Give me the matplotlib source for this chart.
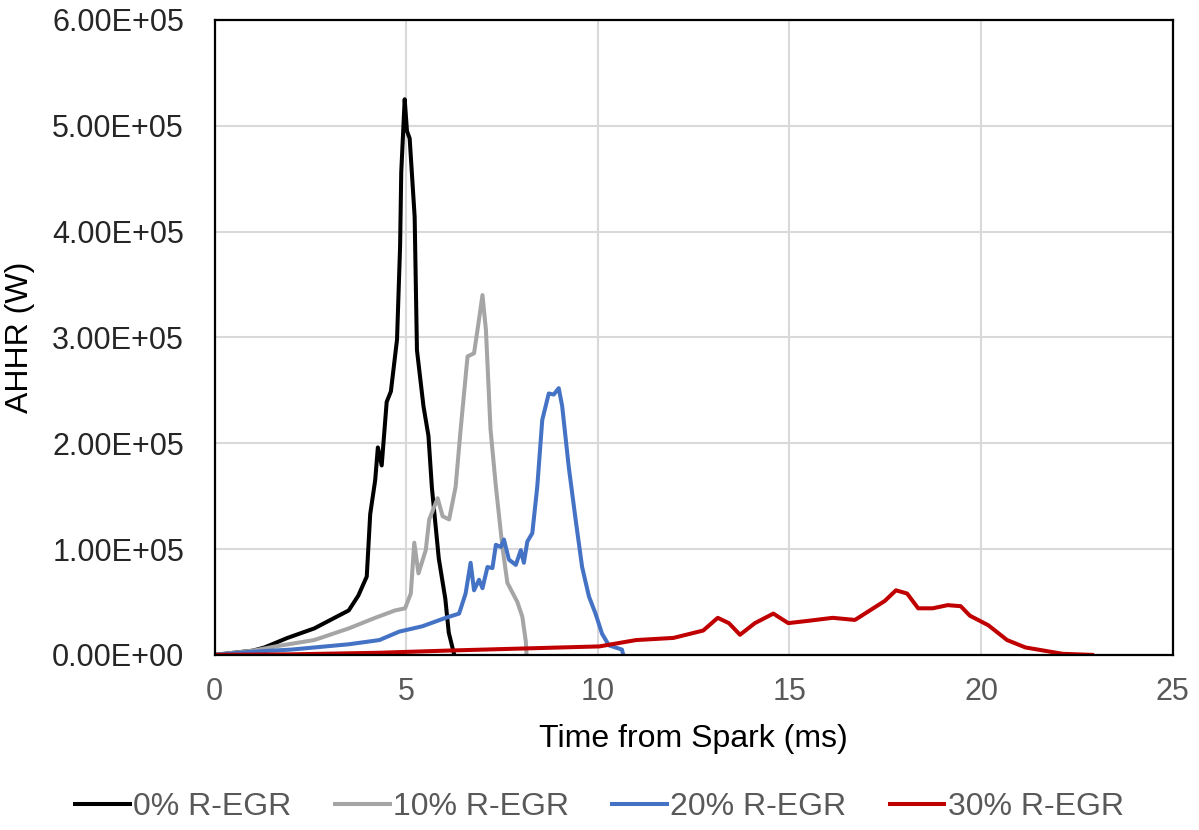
import matplotlib.pyplot as plt
from matplotlib.ticker import FuncFormatter

plt.rcParams['font.family'] = ['Liberation Sans', 'DejaVu Sans']

# AHHR curves (x in ms, y in 1e5 W)
t_0 = [0, 0.5, 1.0, 1.3, 1.9, 2.6, 2.97, 3.5, 3.75, 3.97, 4.06, 4.19, 4.26, 4.36, 4.49,
       4.6, 4.76, 4.84, 4.87, 4.96, 5.02, 5.09, 5.22, 5.28, 5.45, 5.58, 5.67, 5.85,
       6.02, 6.11, 6.24]
ahhr_0 = [0, 0.02, 0.04, 0.07, 0.16, 0.25, 0.32, 0.42, 0.56, 0.74, 1.33, 1.65, 1.96, 1.79,
          2.39, 2.49, 2.98, 3.86, 4.56, 5.25, 4.95, 4.88, 4.14, 2.88, 2.35, 2.07, 1.58,
          0.91, 0.53, 0.21, 0.02]

t_10 = [0, 1.0, 1.75, 2.6, 3.5, 4.19, 4.71, 4.97, 5.12, 5.21, 5.32, 5.51, 5.6, 5.82, 5.95,
        6.12, 6.29, 6.42, 6.6, 6.77, 6.9, 6.99, 7.08, 7.2, 7.34, 7.51, 7.64, 7.9, 8.03,
        8.12, 8.14]
ahhr_10 = [0, 0.04, 0.09, 0.14, 0.25, 0.35, 0.42, 0.44, 0.58, 1.06, 0.77, 0.99, 1.28, 1.48,
           1.31, 1.28, 1.59, 2.13, 2.82, 2.85, 3.17, 3.40, 3.07, 2.13, 1.59, 1.02, 0.68,
           0.50, 0.36, 0.13, 0.0]

t_20 = [0, 1.0, 2.0, 2.6, 3.5, 4.3, 4.82, 5.42, 6.03, 6.38, 6.55, 6.68, 6.77, 6.9, 6.99,
        7.12, 7.25, 7.34, 7.47, 7.55, 7.68, 7.86, 7.99, 8.07, 8.16, 8.29, 8.42, 8.55,
        8.72, 8.85, 8.98, 9.07, 9.24, 9.42, 9.59, 9.77, 9.94, 10.11, 10.29, 10.63, 10.65]
ahhr_20 = [0, 0.03, 0.05, 0.07, 0.10, 0.14, 0.22, 0.27, 0.35, 0.39, 0.58, 0.87, 0.61, 0.71,
           0.63, 0.83, 0.82, 1.04, 1.02, 1.09, 0.90, 0.85, 0.99, 0.87, 1.07, 1.15, 1.59,
           2.22, 2.47, 2.46, 2.52, 2.35, 1.78, 1.28, 0.83, 0.55, 0.39, 0.20, 0.09, 0.05,
           0.02]

t_30 = [0, 2.0, 4.3, 6.03, 8.03, 10.04, 11.0, 11.97, 12.75, 13.13, 13.42, 13.71, 14.1,
        14.58, 14.97, 15.45, 16.13, 16.71, 17.1, 17.49, 17.78, 18.07, 18.36, 18.74, 19.13,
        19.47, 19.71, 20.19, 20.68, 21.16, 22.13, 22.9]
ahhr_30 = [0, 0.005, 0.02, 0.04, 0.06, 0.08, 0.14, 0.16, 0.23, 0.35, 0.30, 0.19, 0.30,
           0.39, 0.30, 0.32, 0.35, 0.33, 0.42, 0.51, 0.61, 0.58, 0.44, 0.44, 0.47, 0.46,
           0.37, 0.28, 0.14, 0.07, 0.01, 0.0]

series = [
    (t_0, ahhr_0, '0% R-EGR', '#000000'),
    (t_10, ahhr_10, '10% R-EGR', '#a5a5a5'),
    (t_20, ahhr_20, '20% R-EGR', '#4472c4'),
    (t_30, ahhr_30, '30% R-EGR', '#c00000'),
]

fig = plt.figure(figsize=(11.99, 8.30), dpi=100)
ax = fig.add_axes([0.179, 0.211, 0.799, 0.765])

for t, y, lab, col in series:
    ax.plot(t, [v * 1e5 for v in y], color=col, lw=2.9, label=lab)

ax.set_xlim(0, 25)
ax.set_ylim(0, 6e5)
ax.set_xticks([0, 5, 10, 15, 20, 25])
ax.set_yticks([i * 1e5 for i in range(7)])
ax.yaxis.set_major_formatter(FuncFormatter(lambda v, p: '%.2E' % v))
ax.grid(True, color='#d9d9d9', lw=1.5)
ax.set_axisbelow(True)
for s in ax.spines.values():
    s.set_color('black')
    s.set_linewidth(1.6)

ax.tick_params(axis='y', length=0, pad=22, labelsize=22, labelcolor='#262626')
ax.tick_params(axis='x', length=0, pad=16, labelsize=22, labelcolor='#595959')
ax.set_xlabel('Time from Spark (ms)', fontsize=23, color='black', labelpad=12)
ax.set_ylabel('AHHR (W)', fontsize=23, color='black', labelpad=12)

fig.legend(loc='center', bbox_to_anchor=(0.5, 0.028), ncol=4, frameon=False,
           fontsize=23, handlelength=1.72, handletextpad=0.1, columnspacing=1.35,
           labelcolor='#595959')

fig.savefig('out.png', dpi=100)
